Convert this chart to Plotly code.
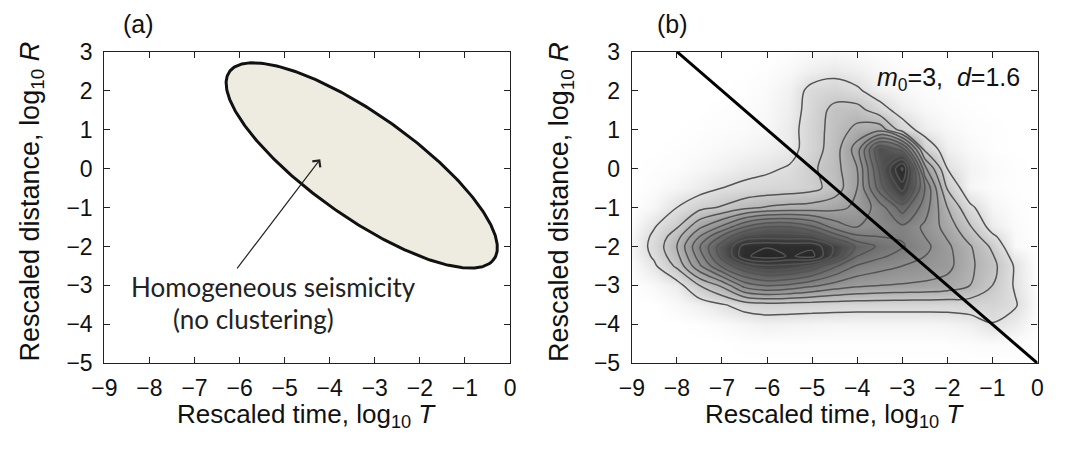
import numpy as np
import plotly.graph_objects as go

# ---------------- data ----------------
x_ticks = [-9, -8, -7, -6, -5, -4, -3, -2, -1, 0]
y_ticks = [-5, -4, -3, -2, -1, 0, 1, 2, 3]

# panel (a): ellipse of "homogeneous seismicity" (centre, semi-axes, tilt)
ellipse_center = [-3.29, 0.08]
ellipse_semi_axes = [3.80, 1.25]
ellipse_angle_deg = -40.3

# panel (b): density level map (number of contours enclosing each point)
grid_x = [-9, -8.5, -8, -7.5, -7, -6.5, -6, -5.5, -5, -4.5, -4, -3.5, -3, -2.5, -2, -1.5, -1, -0.5, 0]
grid_y_top_down = [3.0, 2.5, 2.0, 1.5, 1.0, 0.5, 0.0, -0.5, -1.0, -1.5, -1.75, -2.0, -2.25,
                   -2.5, -3.0, -3.5, -4.0, -4.5, -5.0]
density_rows = [
    [0, 0, 0, 0, 0, 0, 0, 0.05, 0.15, 0.2, 0.15, 0.05, 0, 0, 0, 0, 0, 0, 0],
    [0, 0, 0, 0, 0, 0, 0.05, 0.2, 0.5, 0.7, 0.5, 0.25, 0.1, 0.05, 0, 0, 0, 0, 0],
    [0, 0, 0, 0, 0, 0.05, 0.15, 0.45, 1.3, 1.5, 1.15, 0.5, 0.25, 0.1, 0.05, 0, 0, 0, 0],
    [0, 0, 0, 0, 0.05, 0.1, 0.2, 0.55, 1.4, 2.3, 2.4, 1.4, 0.6, 0.25, 0.1, 0.05, 0, 0, 0],
    [0, 0, 0, 0.05, 0.1, 0.15, 0.25, 0.65, 1.5, 2.4, 3.3, 3.6, 1.5, 0.6, 0.25, 0.1, 0.05, 0, 0],
    [0, 0, 0.05, 0.1, 0.2, 0.3, 0.45, 0.65, 1.5, 2.5, 4.5, 9.0, 7.5, 1.7, 0.5, 0.2, 0.05, 0, 0],
    [0, 0.05, 0.1, 0.25, 0.45, 0.7, 0.85, 1.1, 1.8, 2.6, 4.0, 8.2, 12.2, 4.3, 1.0, 0.4, 0.15, 0.05, 0],
    [0, 0.1, 0.3, 0.6, 1.0, 1.2, 1.35, 1.45, 1.7, 2.4, 4.0, 7.5, 10.5, 6.0, 1.9, 0.3, 0.1, 0.05, 0],
    [0, 0.3, 1.0, 1.7, 2.1, 2.7, 3.1, 3.3, 3.4, 3.7, 4.2, 5.5, 7.5, 5.5, 3.0, 1.2, 0.3, 0.1, 0],
    [0.1, 0.95, 1.9, 3.8, 5.2, 7.0, 8.0, 8.0, 7.2, 5.6, 5.0, 5.3, 5.8, 4.8, 3.6, 2.1, 0.6, 0.15, 0],
    [0.25, 1.2, 2.6, 5.0, 7.2, 9.3, 9.6, 9.5, 9.3, 7.6, 6.2, 6.0, 5.9, 5.0, 3.9, 2.6, 1.2, 0.2, 0],
    [0.3, 1.3, 3.0, 5.9, 8.6, 11.5, 11.9, 11.7, 11.8, 9.8, 7.8, 6.8, 6.1, 5.3, 4.2, 3.1, 1.8, 0.2, 0],
    [0.25, 1.15, 2.7, 5.5, 8.4, 11.8, 12.5, 11.9, 12.3, 9.5, 7.0, 6.2, 5.6, 5.0, 4.3, 3.2, 2.1, 0.6, 0],
    [0.1, 0.85, 2.2, 4.8, 7.2, 9.0, 9.8, 9.6, 8.8, 7.2, 5.9, 5.4, 5.0, 4.7, 4.3, 3.2, 2.3, 0.9, 0],
    [0, 0.2, 0.6, 2.0, 3.2, 5.4, 6.1, 5.8, 5.2, 4.6, 4.2, 4.0, 3.9, 3.8, 3.6, 3.0, 2.0, 0.9, 0.05],
    [0, 0, 0.2, 0.5, 0.9, 1.4, 1.6, 1.55, 1.5, 1.45, 1.4, 1.4, 1.4, 1.4, 1.4, 1.5, 1.5, 1.1, 0.1],
    [0, 0, 0, 0.05, 0.15, 0.3, 0.45, 0.4, 0.35, 0.3, 0.3, 0.3, 0.3, 0.3, 0.35, 0.5, 0.95, 0.6, 0.05],
    [0, 0, 0, 0, 0, 0.05, 0.05, 0.05, 0.05, 0.05, 0.05, 0.05, 0.05, 0.05, 0.05, 0.1, 0.15, 0.1, 0],
    [0, 0, 0, 0, 0, 0, 0, 0, 0, 0, 0, 0, 0, 0, 0, 0, 0, 0, 0],
]

# panel (b): separating line
sep_line_x = [-8, 0]
sep_line_y = [3, -5]

# ---------------- build figure ----------------
FONT = "Liberation Sans, Arial, Helvetica, sans-serif"
TFONT = "Lato, Open Sans, sans-serif"
W, H = 1072, 466
FRAME_TOP, FRAME_BOTTOM = 41, 371

fig = go.Figure()

# ellipse outline from its parameters
t = np.linspace(0, 2 * np.pi, 400)
th = np.deg2rad(ellipse_angle_deg)
a, b = ellipse_semi_axes
ex = ellipse_center[0] + a * np.cos(t) * np.cos(th) - b * np.sin(t) * np.sin(th)
ey = ellipse_center[1] + a * np.cos(t) * np.sin(th) + b * np.sin(t) * np.cos(th)
fig.add_trace(go.Scatter(x=ex, y=ey, mode="lines", fill="toself",
                         fillcolor="#eeebe0", line=dict(color="#111111", width=3),
                         hoverinfo="skip", showlegend=False, xaxis="x", yaxis="y"))

z = np.array(density_rows)[::-1]
gy = np.array(grid_y_top_down)[::-1]
gray_scale = [
    [0.0, "#ffffff"], [0.04, "#f0f0f0"], [0.08, "#e0e0e0"], [0.16, "#c9c9c9"],
    [0.24, "#b4b4b4"], [0.32, "#a0a0a0"], [0.44, "#868686"], [0.56, "#6e6e6e"],
    [0.72, "#4e4e4e"], [0.84, "#383838"], [1.0, "#262626"],
]
fig.add_trace(go.Contour(x=grid_x, y=gy, z=z, zmin=0, zmax=12.5, zauto=False,
                         colorscale=gray_scale, showscale=False,
                         contours=dict(start=1, end=12, size=1, coloring="heatmap", showlines=True),
                         line=dict(color="#545454", width=1.5, smoothing=1.0),
                         hoverinfo="skip", xaxis="x2", yaxis="y2"))

fig.add_trace(go.Scatter(x=sep_line_x, y=sep_line_y, mode="lines",
                         line=dict(color="#000000", width=3), showlegend=False,
                         hoverinfo="skip", xaxis="x2", yaxis="y2"))

dom_a = [93 / W, 506 / W]
dom_b = [630 / W, 1043 / W]
dom_y = [1 - FRAME_BOTTOM / H, 1 - FRAME_TOP / H]

axis_common = dict(showgrid=False, zeroline=False, showline=True, mirror="ticks",
                   linecolor="#222222", linewidth=1.2, ticks="inside", ticklen=6,
                   tickcolor="#222222", tickfont=dict(family=FONT, size=23, color="#111111"))
x_extra = dict(ticklabelstandoff=4)
y_extra = dict(ticklabelstandoff=6)

fig.update_layout(
    width=W, height=H, margin=dict(l=0, r=0, t=0, b=0),
    paper_bgcolor="white", plot_bgcolor="white", showlegend=False,
    xaxis=dict(domain=dom_a, range=[-9, 0], tickvals=x_ticks, anchor="y", **axis_common, **x_extra),
    yaxis=dict(domain=dom_y, range=[-5, 3], tickvals=y_ticks, anchor="x", **axis_common, **y_extra),
    xaxis2=dict(domain=dom_b, range=[-9, 0], tickvals=x_ticks, anchor="y2", **axis_common, **x_extra),
    yaxis2=dict(domain=dom_y, range=[-5, 3], tickvals=y_ticks, anchor="x2", **axis_common, **y_extra),
)

def px_x(p):
    return p / W

def px_y(p):
    return 1 - p / H

ann = []
x_title = "Rescaled time, log<sub>10</sub> <i>T</i>"
y_title = "Rescaled distance, log<sub>10</sub> <i>R</i>"
mid_y = (FRAME_TOP + FRAME_BOTTOM) / 2 - 6
for cx, cyt in [(299, 19), (836, 558)]:
    ann.append(dict(text=x_title, x=px_x(cx), y=px_y(407), xref="paper", yref="paper",
                    xanchor="center", yanchor="top", showarrow=False,
                    font=dict(family=FONT, size=26, color="#111111")))
    ann.append(dict(text=y_title, x=px_x(cyt), y=px_y(mid_y), xref="paper", yref="paper",
                    xanchor="center", yanchor="middle", showarrow=False, textangle=-90,
                    font=dict(family=FONT, size=27, color="#111111")))

for lab, cx in [("(a)", 128), ("(b)", 671)]:
    ann.append(dict(text=lab, x=px_x(cx), y=px_y(12), xref="paper", yref="paper",
                    xanchor="center", yanchor="middle",
                    showarrow=False, font=dict(family=FONT, size=25, color="#111111")))

# panel (a) text and arrow
ann.append(dict(text="Homogeneous seismicity", x=-5.25, y=-3.03, xref="x", yref="y",
                xanchor="center", yanchor="middle",
                showarrow=False, font=dict(family=TFONT, size=26, color="#222222")))
ann.append(dict(text="(no clustering)", x=-5.7, y=-3.85, xref="x", yref="y",
                xanchor="center", yanchor="middle",
                showarrow=False, font=dict(family=TFONT, size=26, color="#222222")))
ann.append(dict(text="", x=-4.21, y=0.24, xref="x", yref="y", ax=-6.08, ay=-2.6,
                axref="x", ayref="y", showarrow=True, arrowhead=4, arrowsize=1.6,
                arrowwidth=1.2, arrowcolor="#222222"))

# panel (b) parameters
ann.append(dict(text="<i>m</i><sub>0</sub>=3,\u00a0\u00a0<i>d</i>=1.6", x=-0.35, y=2.3,
                xref="x2", yref="y2", xanchor="right", yanchor="middle", showarrow=False,
                font=dict(family=FONT, size=25, color="#111111")))

fig.update_layout(annotations=ann)
fig.write_html("out.html", config={"displayModeBar": False},
               post_script="document.body.style.margin='0px';")
